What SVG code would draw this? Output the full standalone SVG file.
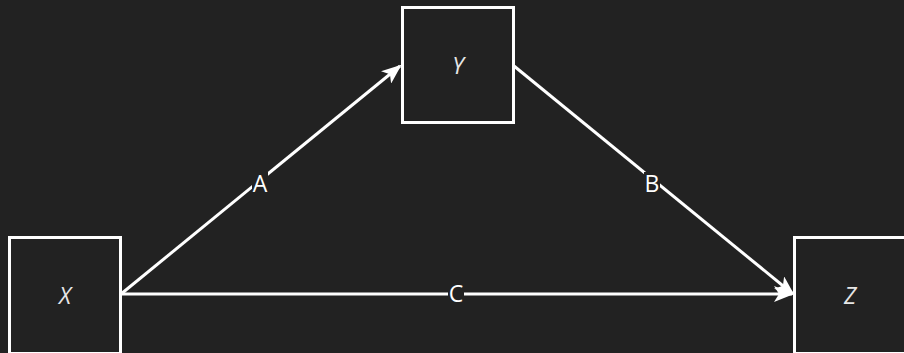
<svg xmlns="http://www.w3.org/2000/svg" width="904" height="353" viewBox="0 0 904 353">
<defs>
<style>
.node rect{fill:#222222;stroke:#ffffff;stroke-width:3}
.nlabel{font-family:"Open Sans","Noto Sans",sans-serif;font-size:23px;font-style:italic;fill:#e6e6e6;text-anchor:middle;dominant-baseline:central}
.edge{stroke:#ffffff;stroke-width:3;fill:none;marker-end:url(#arr)}
.elabel{font-family:"Open Sans","Noto Sans",sans-serif;font-size:23px;fill:#ffffff;text-anchor:middle;dominant-baseline:central}
.lbg{fill:#222222}
</style>
<marker id="arr" viewBox="0 0 20 16" refX="18" refY="8" markerWidth="20" markerHeight="16" markerUnits="userSpaceOnUse" orient="auto">
<path d="M0,0 L20,8 L0,16 L5,8 Z" fill="#ffffff"/>
</marker>
</defs>
<rect width="904" height="353" fill="#222222"/>
<g id="connectors">
<line class="edge" x1="121" y1="294" x2="400" y2="66"/>
<line class="edge" x1="514" y1="66" x2="793" y2="294"/>
<line class="edge" x1="121" y1="294" x2="792" y2="294"/>
<rect class="lbg" x="252" y="172" width="16" height="22"/>
<text class="elabel" x="260" y="183">A</text>
<rect class="lbg" x="644" y="172" width="16" height="22"/>
<text class="elabel" x="652" y="183">B</text>
<rect class="lbg" x="448" y="282" width="16" height="22"/>
<text class="elabel" x="456" y="293">C</text>
</g>
<g id="node-x" class="node">
<rect x="9.5" y="237.5" width="111" height="116"/>
<text class="nlabel" x="65" y="295">X</text>
</g>
<g id="node-y" class="node">
<rect x="402.5" y="7.5" width="111" height="115"/>
<text class="nlabel" x="458" y="65">Y</text>
</g>
<g id="node-z" class="node">
<rect x="794.5" y="237.5" width="111" height="116"/>
<text class="nlabel" x="850" y="295">Z</text>
</g>
</svg>
